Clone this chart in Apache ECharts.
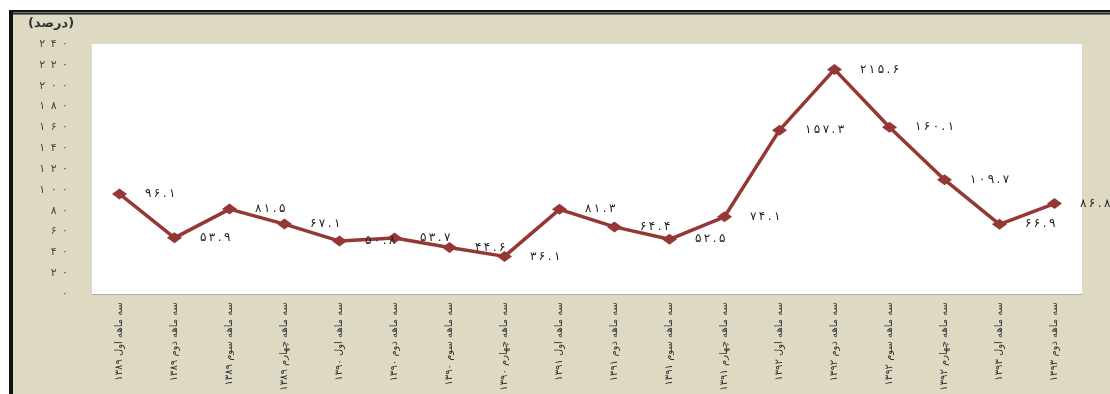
<!DOCTYPE html>
<html>
<head>
<meta charset="utf-8">
<script src="https://cdn.jsdelivr.net/npm/echarts@6/dist/echarts.min.js"></script>
<style>
html,body{margin:0;padding:0;background:#fff;}
#c{width:1110px;height:394px;}
</style>
</head>
<body>
<div id="c"></div>
<script>
var categories = [
  'سه ماهه اول ۱۳۸۹','سه ماهه دوم ۱۳۸۹','سه ماهه سوم ۱۳۸۹','سه ماهه چهارم ۱۳۸۹',
  'سه ماهه اول ۱۳۹۰','سه ماهه دوم ۱۳۹۰','سه ماهه سوم ۱۳۹۰','سه ماهه چهارم ۱۳۹۰',
  'سه ماهه اول ۱۳۹۱','سه ماهه دوم ۱۳۹۱','سه ماهه سوم ۱۳۹۱','سه ماهه چهارم ۱۳۹۱',
  'سه ماهه اول ۱۳۹۲','سه ماهه دوم ۱۳۹۲','سه ماهه سوم ۱۳۹۲','سه ماهه چهارم ۱۳۹۲',
  'سه ماهه اول ۱۳۹۳','سه ماهه دوم ۱۳۹۳'
];
var values = [96.1, 53.9, 81.5, 67.1, 50.8, 53.7, 44.6, 36.1, 81.3, 64.4, 52.5, 74.1, 157.3, 215.6, 160.1, 109.7, 66.9, 86.8];
var yMin = 0, yMax = 240, yStep = 20;
var unitLabel = '(درصد)';

var FA = '۰۱۲۳۴۵۶۷۸۹';
function toFa(s, sep) {
  var out = [];
  String(s).split('').forEach(function (ch) {
    if (ch >= '0' && ch <= '9') out.push(FA[+ch]); else out.push(ch);
  });
  return out.join(sep);
}

var font = '"DejaVu Sans", sans-serif';
var chart = echarts.init(document.getElementById('c'), null, {renderer: 'canvas'});
chart.setOption({
  animation: false,
  backgroundColor: '#ffffff',
  graphic: [
    {type: 'rect', left: 13, top: 14, shape: {width: 1097, height: 380}, style: {fill: '#DDD9C3'}, z: -10},
    {type: 'rect', left: 9, top: 10, shape: {width: 1101, height: 2}, style: {fill: '#111'}, z: -5},
    {type: 'rect', left: 9, top: 12, shape: {width: 1101, height: 1}, style: {fill: '#777'}, z: -5},
    {type: 'rect', left: 9, top: 13, shape: {width: 1101, height: 1.5}, style: {fill: '#222'}, z: -5},
    {type: 'rect', left: 9, top: 10, shape: {width: 4, height: 384}, style: {fill: '#111'}, z: -5},
    {type: 'text', left: 28, top: 17, style: {text: unitLabel, font: 'bold 13px ' + font, fill: '#333'}}
  ],
  grid: {left: 92, right: 28, top: 44, bottom: 100, outerBoundsMode: 'none', containLabel: false,
         show: true, backgroundColor: '#ffffff', borderWidth: 0},
  xAxis: {
    type: 'category',
    data: categories,
    boundaryGap: true,
    axisLine: {show: true, lineStyle: {color: '#b0b0b0', width: 1}},
    axisTick: {show: false},
    axisLabel: {rotate: 90, interval: 0, margin: 8, fontSize: 10, color: '#333', fontFamily: font}
  },
  yAxis: {
    type: 'value',
    min: yMin, max: yMax, interval: yStep,
    axisLine: {show: false},
    axisTick: {show: false},
    splitLine: {show: false},
    axisLabel: {
      margin: 24, fontSize: 11, color: '#444', fontFamily: font,
      formatter: function (v) { return toFa(v, '\u2002'); }
    }
  },
  series: [{
    type: 'line',
    data: values,
    symbol: 'diamond',
    symbolSize: [15, 11],
    lineStyle: {color: '#953735', width: 3.5},
    itemStyle: {color: '#953735'},
    label: {
      show: true, position: 'right', distance: 18,
      fontSize: 12, color: '#222', fontFamily: font,
      formatter: function (p) { return toFa(p.value.toFixed(1), '\u2009'); }
    }
  }]
});
</script>
</body>
</html>
